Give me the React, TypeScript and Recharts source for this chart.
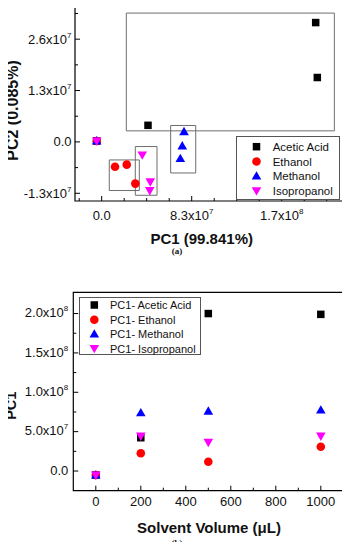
import React from 'react';
import { ScatterChart, Scatter, XAxis, YAxis, ReferenceArea, Legend, Label } from 'recharts';

// ---------- series meta ----------
const seriesNames = ['Acetic Acid', 'Ethanol', 'Methanol', 'Isopropanol'];
const seriesNamesB = ['PC1- Acetic Acid', 'PC1- Ethanol', 'PC1- Methanol', 'PC1- Isopropanol'];
const seriesColors = ['#000000', '#ff0000', '#0000ff', '#ff00ff'];
const seriesShapes = ['square', 'circle', 'triangle', 'triangleDown'];

// ---------- panel (a): PCA scores ----------
const aceticPC1 = [-4.6e6, 4.27e7, 1.973e8, 1.988e8];
const aceticPC2 = [0.25e6, 4.2e6, 3.02e7, 1.63e7];
const ethanolPC1 = [-4.6e6, 1.23e7, 2.31e7, 3.1e7];
const ethanolPC2 = [0.25e6, -6.3e6, -5.75e6, -1.055e7];
const methanolPC1 = [-4.6e6, 7.59e7, 7.43e7, 7.25e7];
const methanolPC2 = [0.25e6, 2.6e6, -1.0e6, -4.2e6];
const isopropanolPC1 = [-4.6e6, 3.74e7, 4.48e7, 4.43e7];
const isopropanolPC2 = [0.25e6, -3.3e6, -1.01e7, -1.23e7];

// grouping boxes [x1, x2, y1, y2]
const groupBoxes = [
  [2.27e7, 2.145e8, 0.28e7, 3.26e7],
  [6.36e7, 8.67e7, -0.786e7, 0.416e7],
  [0.7e7, 3.47e7, -1.23e7, -0.456e7],
  [3.1e7, 5.1e7, -1.35e7, -0.117e7],
];

const aXDomain = [-2.46e7, 2.234e8];
const aYDomain = [-1.495e7, 3.49e7];
const aXMajor = [0, 8.3e7, 1.66e8];
const aXMajorLabels = ['0.0', '8.3x10^7', '1.7x10^8'];
const aXMinor = [-2.075e7, 2.075e7, 4.15e7, 6.225e7, 1.0375e8, 1.245e8, 1.4525e8, 1.8675e8, 2.075e8];
const aYMajor = [-1.3e7, 0, 1.3e7, 2.6e7];
const aYMajorLabels = ['-1.3x10^7', '0.0', '1.3x10^7', '2.6x10^7'];
const aYMinor = [-6.5e6, 6.5e6, 1.95e7, 3.25e7];

// ---------- panel (b): PC1 vs solvent volume ----------
const volumes = [0, 200, 500, 1000];
const aceticB = [-5.1e6, 4.23e7, 2.0e8, 1.99e8];
const ethanolB = [-5.1e6, 2.25e7, 1.18e7, 3.08e7];
const methanolB = [-5.1e6, 7.4e7, 7.61e7, 7.74e7];
const isopropanolB = [-5.1e6, 4.44e7, 3.64e7, 4.44e7];

const bXDomain = [-100, 1100];
const bYDomain = [-2.5e7, 2.27e8];
const bXMajor = [0, 200, 400, 600, 800, 1000];
const bXMajorLabels = ['0', '200', '400', '600', '800', '1000'];
const bXMinor = [100, 300, 500, 700, 900];
const bYMajor = [0, 5e7, 1e8, 1.5e8, 2e8];
const bYMajorLabels = ['0.0', '5.0x10^7', '1.0x10^8', '1.5x10^8', '2.0x10^8'];
const bYMinor = [2.5e7, 7.5e7, 1.25e8, 1.75e8];

const FONT = '"Liberation Sans", Arial, sans-serif';

const zip = (xs: number[], ys: number[]) => xs.map((x, i) => ({ x, y: ys[i] }));

const dataA = [
  zip(aceticPC1, aceticPC2),
  zip(ethanolPC1, ethanolPC2),
  zip(methanolPC1, methanolPC2),
  zip(isopropanolPC1, isopropanolPC2),
];
const dataB = [
  zip(volumes, aceticB),
  zip(volumes, ethanolB),
  zip(volumes, methanolB),
  zip(volumes, isopropanolB),
];

function Marker({ kind, cx, cy, color }: { kind: string; cx: number; cy: number; color: string }) {
  if (cx == null || cy == null || isNaN(cx) || isNaN(cy)) return null;
  if (kind === 'square') {
    const s = 7.5;
    return <rect x={cx - s / 2} y={cy - s / 2} width={s} height={s} fill={color} />;
  }
  if (kind === 'circle') {
    return <circle cx={cx} cy={cy} r={4.3} fill={color} />;
  }
  const w = 9.6;
  const h = 8.4;
  if (kind === 'triangle') {
    return (
      <polygon
        points={`${cx},${cy - h * 0.58} ${cx - w / 2},${cy + h * 0.42} ${cx + w / 2},${cy + h * 0.42}`}
        fill={color}
      />
    );
  }
  return (
    <polygon
      points={`${cx},${cy + h * 0.58} ${cx - w / 2},${cy - h * 0.42} ${cx + w / 2},${cy - h * 0.42}`}
      fill={color}
    />
  );
}

function TickText({ x, y, label, anchor }: { x: number; y: number; label: string; anchor: 'middle' | 'end' }) {
  const [base, exp] = label.split('^');
  return (
    <text x={x} y={y} textAnchor={anchor} fontSize={13} fill="#111" fontFamily={FONT}>
      {base}
      {exp !== undefined && (
        <tspan dy={-6} fontSize={8}>
          {exp}
        </tspan>
      )}
    </text>
  );
}

const findMajor = (majors: number[], v: number) =>
  majors.findIndex((m) => Math.abs(m - v) <= Math.abs(m) * 1e-9 + 1e-9);

const makeXTick = (majors: number[], labels: string[], gap: number) => (props: any) => {
  const { x, y, payload } = props;
  const idx = findMajor(majors, payload.value);
  const len = idx >= 0 ? 5 : 3;
  return (
    <g>
      <line x1={x} x2={x} y1={y} y2={y - len} stroke="#000" strokeWidth={1} />
      {idx >= 0 && <TickText x={x} y={y + gap} label={labels[idx]} anchor="middle" />}
    </g>
  );
};

const makeYTick = (majors: number[], labels: string[], gap: number, dy: number) => (props: any) => {
  const { x, y, payload } = props;
  const idx = findMajor(majors, payload.value);
  const len = idx >= 0 ? 5 : 3;
  return (
    <g>
      <line x1={x} x2={x + len} y1={y} y2={y} stroke="#000" strokeWidth={1} />
      {idx >= 0 && <TickText x={x - gap} y={y + dy} label={labels[idx]} anchor="end" />}
    </g>
  );
};

function LegendBox({ names, width, height, rowY, symX, textX, fontSize }: any) {
  return (
    <svg width={width} height={height} style={{ display: 'block' }}>
      <rect x={0.5} y={0.5} width={width - 1} height={height - 1} fill="#fff" stroke="#555" strokeWidth={1} />
      {names.map((n: string, i: number) => (
        <g key={n}>
          <Marker kind={seriesShapes[i]} cx={symX} cy={rowY[i]} color={seriesColors[i]} />
          <text x={textX} y={rowY[i] + 4} fontSize={fontSize} fontFamily={FONT} fill="#111">
            {n}
          </text>
        </g>
      ))}
    </svg>
  );
}

const captionStyle: React.CSSProperties = {
  position: 'absolute',
  left: 157,
  width: 40,
  textAlign: 'center',
  fontFamily: '"Liberation Serif", "Times New Roman", serif',
  fontSize: 9,
  fontWeight: 'bold',
  lineHeight: '10px',
  color: '#111',
};

export default function App() {
  return (
    <div
      style={{
        position: 'relative',
        width: 350,
        height: 550,
        margin: -8,
        background: '#fff',
        overflow: 'hidden',
      }}
    >
      {/* Panel (a) */}
      <div style={{ position: 'absolute', left: 0, top: 0 }}>
        <ScatterChart width={350} height={255} margin={{ top: 4, right: 6, bottom: 0, left: 0 }}>
          <XAxis
            type="number"
            dataKey="x"
            domain={aXDomain}
            allowDataOverflow
            ticks={[...aXMajor, ...aXMinor].sort((a, b) => a - b)}
            interval={0}
            tickSize={0}
            tickMargin={0}
            tickLine={false}
            axisLine={false}
            height={54}
            tick={makeXTick(aXMajor, aXMajorLabels, 19)}
          >
            <Label
              content={() => (
                <text x={201.7} y={244} textAnchor="middle" fontSize={15} fontWeight="bold" fontFamily={FONT} fill="#111">
                  PC1 (99.841%)
                </text>
              )}
            />
          </XAxis>
          <YAxis
            type="number"
            dataKey="y"
            domain={aYDomain}
            allowDataOverflow
            ticks={[...aYMajor, ...aYMinor].sort((a, b) => a - b)}
            interval={0}
            tickSize={0}
            tickMargin={0}
            tickLine={false}
            axisLine={false}
            width={75}
            tick={makeYTick(aYMajor, aYMajorLabels, 3.5, 4.5)}
          >
            <Label
              content={() => (
                <text
                  x={17.5}
                  y={110.5}
                  transform="rotate(-90 17.5 110.5)"
                  textAnchor="middle"
                  fontSize={16}
                  fontWeight="bold"
                  fontFamily={FONT}
                  fill="#111"
                >
                  PC2 (0.085%)
                </text>
              )}
            />
          </YAxis>
          {groupBoxes.map((b, i) => (
            <ReferenceArea
              key={i}
              x1={b[0]}
              x2={b[1]}
              y1={b[2]}
              y2={b[3]}
              fill="none"
              fillOpacity={0}
              stroke="#6e6e6e"
              strokeWidth={1}
              ifOverflow="visible"
            />
          ))}
          <ReferenceArea
            x1={aXDomain[0]}
            x2={aXDomain[1]}
            y1={aYDomain[0]}
            y2={aYDomain[1]}
            fill="none"
            fillOpacity={0}
            stroke="#000"
            strokeWidth={1.2}
            ifOverflow="visible"
          />
          {dataA.map((d, i) => (
            <Scatter
              key={seriesNames[i]}
              name={seriesNames[i]}
              data={d}
              fill={seriesColors[i]}
              isAnimationActive={false}
              shape={(p: any) => <Marker kind={seriesShapes[i]} cx={p.cx} cy={p.cy} color={seriesColors[i]} />}
            />
          ))}
          <Legend
            layout="horizontal"
            verticalAlign="middle"
            align="center"
            wrapperStyle={{ left: 236, top: 136, width: 104, height: 64 }}
            content={() => (
              <LegendBox
                names={seriesNames}
                width={104}
                height={64}
                rowY={[10.7, 25.5, 40, 54.7]}
                symX={20.5}
                textX={36.7}
                fontSize={11.5}
              />
            )}
          />
        </ScatterChart>
      </div>
      <div style={{ ...captionStyle, top: 246 }}>(a)</div>

      {/* Panel (b) */}
      <div style={{ position: 'absolute', left: 0, top: 260 }}>
        <ScatterChart width={350} height={290} margin={{ top: 32.3, right: 6.7, bottom: 0, left: 0 }}>
          <XAxis
            type="number"
            dataKey="x"
            domain={bXDomain}
            allowDataOverflow
            ticks={[...bXMajor, ...bXMinor].sort((a, b) => a - b)}
            interval={0}
            tickSize={0}
            tickMargin={0}
            tickLine={false}
            axisLine={false}
            height={59.3}
            tick={makeXTick(bXMajor, bXMajorLabels, 15.3)}
          >
            <Label
              content={() => (
                <text x={209} y={272.5} textAnchor="middle" fontSize={15} fontWeight="bold" fontFamily={FONT} fill="#111">
                  Solvent Volume (μL)
                </text>
              )}
            />
          </XAxis>
          <YAxis
            type="number"
            dataKey="y"
            domain={bYDomain}
            allowDataOverflow
            ticks={[...bYMajor, ...bYMinor].sort((a, b) => a - b)}
            interval={0}
            tickSize={0}
            tickMargin={0}
            tickLine={false}
            axisLine={false}
            width={73.3}
            tick={makeYTick(bYMajor, bYMajorLabels, 5, 3.8)}
          >
            <Label
              content={() => (
                <text
                  x={16.5}
                  y={145.7}
                  transform="rotate(-90 16.5 145.7)"
                  textAnchor="middle"
                  fontSize={14.5}
                  fontWeight="bold"
                  fontFamily={FONT}
                  fill="#111"
                >
                  PC1
                </text>
              )}
            />
          </YAxis>
          <ReferenceArea
            x1={bXDomain[0]}
            x2={bXDomain[1]}
            y1={bYDomain[0]}
            y2={bYDomain[1]}
            fill="none"
            fillOpacity={0}
            stroke="#000"
            strokeWidth={1.2}
            ifOverflow="visible"
          />
          {dataB.map((d, i) => (
            <Scatter
              key={seriesNamesB[i]}
              name={seriesNamesB[i]}
              data={d}
              fill={seriesColors[i]}
              isAnimationActive={false}
              shape={(p: any) => <Marker kind={seriesShapes[i]} cx={p.cx} cy={p.cy} color={seriesColors[i]} />}
            />
          ))}
          <Legend
            layout="horizontal"
            verticalAlign="middle"
            align="center"
            wrapperStyle={{ left: 79, top: 37.3, width: 122, height: 58 }}
            content={() => (
              <LegendBox
                names={seriesNamesB}
                width={122}
                height={58}
                rowY={[8, 22.7, 37, 51.5]}
                symX={15.3}
                textX={31}
                fontSize={11}
              />
            )}
          />
        </ScatterChart>
      </div>
      <div style={{ ...captionStyle, top: 538 }}>(b)</div>
    </div>
  );
}
